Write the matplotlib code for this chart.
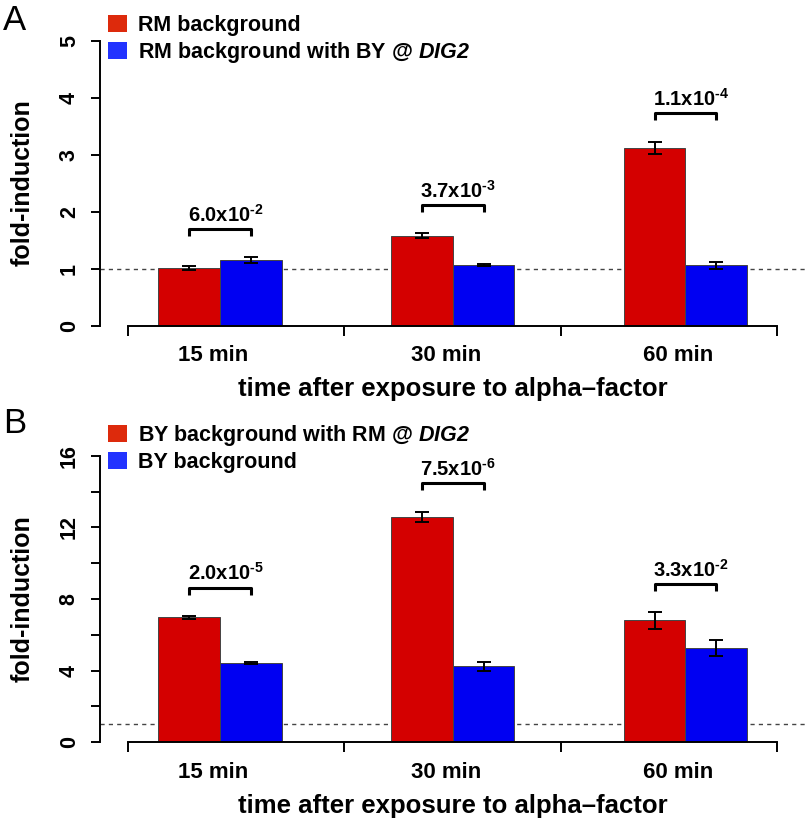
import matplotlib.pyplot as plt
import numpy as np
from matplotlib.patches import Patch

plt.rcParams['font.family'] = ['Liberation Sans', 'DejaVu Sans']
plt.rcParams['font.weight'] = 'bold'
plt.rcParams['mathtext.fontset'] = 'custom'
plt.rcParams['mathtext.rm'] = 'Liberation Sans:bold'
plt.rcParams['mathtext.bf'] = 'Liberation Sans:bold'
plt.rcParams['mathtext.it'] = 'Liberation Sans:italic:bold'
plt.rcParams['mathtext.sf'] = 'Liberation Sans:italic:bold'
plt.rcParams['ytick.labelsize'] = 15.5
plt.rcParams['xtick.labelsize'] = 16

times = ['15 min', '30 min', '60 min']

# panel A
a_red_label = 'RM background'
a_blue_label = r'RM background with BY @ $\mathsf{DIG2}$'
a_red = [1.01, 1.58, 3.12]
a_red_err = [0.03, 0.04, 0.11]
a_blue = [1.15, 1.07, 1.06]
a_blue_err = [0.05, 0.02, 0.06]
a_p_mant = ['6.0', '3.7', '1.1']
a_p_exp = ['-2', '-3', '-4']
a_yticks = [0, 1, 2, 3, 4, 5]

# panel B
b_red_label = r'BY background with RM @ $\mathsf{DIG2}$'
b_blue_label = 'BY background'
b_red = [6.98, 12.6, 6.8]
b_red_err = [0.07, 0.28, 0.45]
b_blue = [4.43, 4.24, 5.26]
b_blue_err = [0.07, 0.26, 0.43]
b_p_mant = ['2.0', '7.5', '3.3']
b_p_exp = ['-5', '-6', '-2']
b_yticks = [0, 4, 8, 12, 16]
b_yminor = [2, 6, 10, 14]

RED = '#d40000'
BLUE = '#0000f2'
LEG_RED = '#dd2a0c'
LEG_BLUE = '#2233ff'

W, H = 806, 819
fig = plt.figure(figsize=(W / 100, H / 100), dpi=100)


def panel(ax, red, red_err, blue, blue_err, p_mant, p_exp, yticks, ymax, yminor=None):
    x = np.arange(len(times))
    w = 0.265
    ax.axhline(1, color='#444444', lw=1, ls=(0, (3, 3)), zorder=0)
    ax.bar(x - w / 2, red, w, color=RED, edgecolor='#444444', lw=0.7, zorder=2)
    ax.bar(x + w / 2, blue, w, color=BLUE, edgecolor='#444444', lw=0.7, zorder=2)
    ax.errorbar(x - w / 2, red, yerr=red_err, fmt='none', ecolor='black',
                elinewidth=1.4, capsize=5, capthick=1.4, zorder=3)
    ax.errorbar(x + w / 2, blue, yerr=blue_err, fmt='none', ecolor='black',
                elinewidth=1.4, capsize=5, capthick=1.4, zorder=3)

    # significance brackets
    for i in range(len(times)):
        top = max(red[i] + red_err[i], blue[i] + blue_err[i])
        lo = top + 0.075 * ymax
        hi = lo + 0.024 * ymax
        ax.plot([i - w / 2, i - w / 2, i + w / 2, i + w / 2], [lo, hi, hi, lo],
                color='black', lw=2.2, solid_capstyle='butt', clip_on=False)
        ax.annotate(r'$\mathrm{%sx10}^{\text{%s}}$' % (p_mant[i], p_exp[i]),
                    xy=(i, hi), xytext=(4, 5.5), textcoords='offset points',
                    ha='center', va='baseline', fontsize=14.5)

    ax.set_xlim(-0.5157, 2.518)
    ax.set_ylim(0, ymax)
    for s in ['top', 'right']:
        ax.spines[s].set_visible(False)
    for s in ['left', 'bottom']:
        ax.spines[s].set_linewidth(1.4)
    ax.spines['left'].set_bounds(0, ymax)
    edges = np.linspace(-0.3965, 2.3955, 4)
    ax.spines['bottom'].set_bounds(edges[0], edges[-1])

    ax.set_xticks(x - 0.03, times)
    ax.set_xticks(edges, minor=True)
    ax.tick_params(axis='x', which='major', length=0, pad=14)
    ax.tick_params(axis='x', which='minor', length=7.5, width=1.4)

    ax.set_yticks(yticks, [str(t) for t in yticks])
    if yminor is not None:
        ax.set_yticks(yminor, minor=True)
    ax.tick_params(axis='y', which='both', length=6.5, width=1.4, pad=8)
    for lbl in ax.get_yticklabels():
        lbl.set_rotation(90)
        lbl.set_va('center')
    ax.set_xlabel('time after exposure to alpha\u2013factor', fontsize=18.5,
                  fontweight='bold', labelpad=8)


def legend(ax, red_label, blue_label, top_px):
    handles = [Patch(facecolor=LEG_RED, edgecolor='none', label=red_label),
               Patch(facecolor=LEG_BLUE, edgecolor='none', label=blue_label)]
    fig.legend(handles=handles, loc='upper left', frameon=False,
               bbox_to_anchor=(108 / W, 1 - top_px / H), borderpad=0, borderaxespad=0,
               handlelength=0.9, handleheight=0.85, handletextpad=0.5,
               labelspacing=0.2, prop={'size': 15.5, 'weight': 'bold'})


ax_a = fig.add_axes([100 / W, 1 - 325.7 / H, 706 / W, 285 / H])
panel(ax_a, a_red, a_red_err, a_blue, a_blue_err, a_p_mant, a_p_exp, a_yticks, 5)
legend(ax_a, a_red_label, a_blue_label, 15)

ax_b = fig.add_axes([100 / W, 1 - 742.3 / H, 706 / W, 286.6 / H])
panel(ax_b, b_red, b_red_err, b_blue, b_blue_err, b_p_mant, b_p_exp, b_yticks, 16, b_yminor)
legend(ax_b, b_red_label, b_blue_label, 423)

fig.text(23 / W, 1 - 183 / H, 'fold-induction', rotation=90, ha='center', va='center', fontsize=18)
fig.text(23 / W, 1 - 599 / H, 'fold-induction', rotation=90, ha='center', va='center', fontsize=18)

fig.text(15 / W, 1 - 21 / H, 'A', ha='center', va='center', fontsize=25, fontweight='normal')
fig.text(15 / W, 1 - 423 / H, 'B', ha='center', va='center', fontsize=25, fontweight='normal')

fig.savefig('out.png', dpi=100)
